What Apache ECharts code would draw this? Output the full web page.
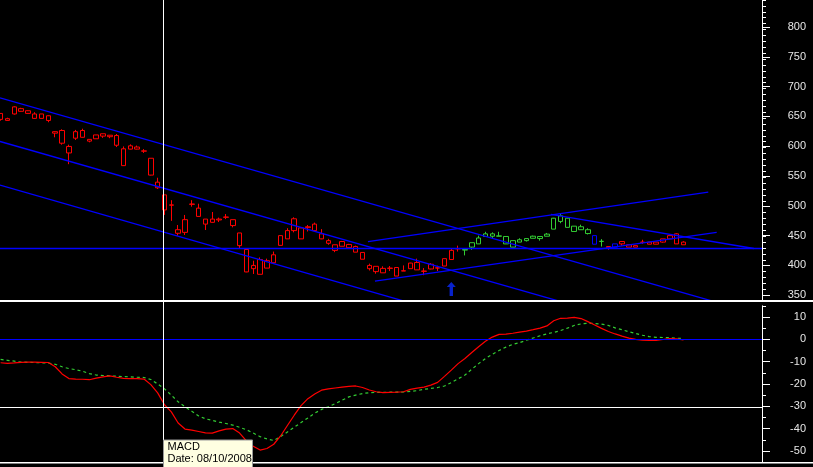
<!DOCTYPE html>
<html><head><meta charset="utf-8">
<script src="https://cdn.jsdelivr.net/npm/echarts@6/dist/echarts.min.js"></script>
<style>html,body{margin:0;padding:0;background:#000;}#c{width:813px;height:467px;}</style>
</head><body><div id="c"></div>
<script>
// ---- data ----
const dates = ['04/09/2008','05/09/2008','08/09/2008','09/09/2008','10/09/2008','11/09/2008','12/09/2008','15/09/2008','16/09/2008','17/09/2008','18/09/2008','19/09/2008','22/09/2008','23/09/2008','24/09/2008','25/09/2008','26/09/2008','29/09/2008','30/09/2008',
'01/10/2008','02/10/2008','03/10/2008','06/10/2008','07/10/2008','08/10/2008','09/10/2008','10/10/2008','13/10/2008','14/10/2008','15/10/2008','16/10/2008','17/10/2008','20/10/2008','21/10/2008','22/10/2008','23/10/2008','24/10/2008','27/10/2008','28/10/2008','29/10/2008','30/10/2008','31/10/2008',
'03/11/2008','04/11/2008','05/11/2008','06/11/2008','07/11/2008','10/11/2008','11/11/2008','12/11/2008','13/11/2008','14/11/2008','17/11/2008','18/11/2008','19/11/2008','20/11/2008','21/11/2008','24/11/2008','25/11/2008','26/11/2008','27/11/2008','28/11/2008',
'01/12/2008','02/12/2008','03/12/2008','04/12/2008','05/12/2008','08/12/2008','09/12/2008','10/12/2008','11/12/2008','12/12/2008','15/12/2008','16/12/2008','17/12/2008','18/12/2008','19/12/2008','22/12/2008','23/12/2008','24/12/2008','25/12/2008','26/12/2008','29/12/2008','30/12/2008','31/12/2008',
'01/01/2009','02/01/2009','05/01/2009','06/01/2009','07/01/2009','08/01/2009','09/01/2009','12/01/2009','13/01/2009','14/01/2009','15/01/2009','16/01/2009','19/01/2009','20/01/2009','21/01/2009','22/01/2009'];

const opens  = [647.8,649,657,661.5,662.5,657,649.5,654,627,629,591,616,629,614,615,619.5,618.5,620.5,569.5,603,601,594.5,582,541.5,520,503,461,456.5,504.5,497.5,470.5,479,479,482.5,478,455.5,427.5,395,410.5,396,405,434.5,445.5,479.5,445.5,466,470.5,454,442.5,426,441,430.5,432.5,422.5,400.5,390,395.5,395.5,382.5,391.5,395,405.5,390.5,402.5,396,399.5,410.5,428.5,427.5,431.5,437,449.5,450,450.5,449.5,431.5,444,446,450,449.5,453.5,462,484.5,480.5,458,466,461,451,441.5,432.5,431.5,441,431.5,434,439.5,440,440,440,445.5,454,435.5];
const closes = [657.9,646.1,669,666,658,649.5,657,646,624.5,607.5,602,627,617.5,611,621.5,623.5,621,604,598,597.5,597.5,594,553.5,532,494.5,502.5,455,478,504,483.5,479,473.5,477.5,482,468,434,389.5,400.5,385.5,408.5,418.5,451,459.5,459.5,464,464.5,459.5,445.5,438,435.5,433,436,423,411,395,399,388,396,397,391,404.5,393,391,394.5,396.5,412,426,429,426.5,439,447,454,454,450,437,442.5,440,442.5,446.5,446,450,480.5,475,465,467,461,454.5,436.5,441,430.5,437,437,435.5,431.5,440,436.5,436.5,445.5,451,437,440];
const lows   = [645.6,645.8,656,661,657.5,649,649.5,643,617.5,605,572,613,617,609,615,616.5,616,601,569,597,597,591,553,530,486,476,451,452,500,483,460.5,473,474,479,465,429.5,389,386,385.5,396,405,434.5,445.5,456.5,445.5,458,459,445,435.5,423,433,430,423,411,392,386.5,388,391,382.5,391,395,393,384,394,391,399.5,410.5,424,417.5,427,437,449,447,450,437,431.5,440,441,446.5,442.5,450,462,472,465,458,461,453,436.5,432.5,427,431,434,431.5,431.5,437,436.5,436.5,439,445.5,437,435.5];
const highs  = [658.5,650.7,670,667.5,663,660,657,654.5,627.5,631,605,630,632,614,621.5,623.5,621,623,602,605.5,603.5,597.5,582,549,520,511,469,486,511,505,479,491,481.5,487.5,478,455.5,428,408.5,414,412,424,451,463.5,482,464,469,473,462,445.5,435.5,442,437,434,422.5,403.5,399,399,399.5,397,400.5,405,412,396,404.5,400,412,428.5,434,428,439,451,457.5,456.5,457.5,449.5,442.5,446.5,446,451,449.5,455.5,481,487.5,481,467,469.5,463.5,451,445,432.5,437,441,435.5,434,444,440,440,445.5,451,455,441.5];
// bar colour class: r = down-trend, g = up-trend, b = neutral
const barTrend = ('r'.repeat(68) + 'g'.repeat(19) + 'bgrb' + 'r'.repeat(10)).split('');

const macd   = [-10.5,-10.8,-10.6,-10.3,-10.2,-10.2,-10.3,-10.4,-12.3,-15.5,-17.6,-17.8,-17.9,-18.1,-17.4,-16.8,-16.4,-17.0,-17.5,-17.6,-17.6,-17.8,-20.3,-24.0,-29.3,-32.5,-37.5,-40.2,-40.7,-41.3,-41.9,-42.0,-41.0,-40.2,-40.0,-42.0,-45.5,-47.9,-49.6,-48.9,-47.0,-43.3,-38.6,-34.0,-29.7,-26.6,-24.5,-22.8,-22.2,-21.8,-21.4,-21.1,-20.9,-21.6,-22.7,-23.5,-23.9,-23.8,-23.7,-23.5,-22.4,-21.9,-21.4,-20.5,-19.3,-16.6,-13.8,-10.9,-8.6,-5.9,-3.3,-0.9,1.0,2.2,2.3,2.7,3.2,3.7,4.3,5.0,6.0,8.3,9.4,9.5,9.8,9.3,7.9,6.4,4.9,3.5,2.4,1.4,0.5,0.0,-0.4,-0.5,-0.5,-0.1,0.3,0.2,-0.3];
const signal = [-9.0,-9.4,-9.8,-10.2,-10.3,-10.4,-10.5,-10.7,-11.2,-12.3,-13.1,-13.6,-14.3,-15.4,-16.0,-16.2,-16.4,-16.5,-16.7,-16.8,-17.0,-17.1,-18.0,-20.0,-22.2,-25.0,-28.0,-30.2,-32.2,-34.3,-35.6,-36.3,-37.1,-37.7,-38.4,-39.4,-40.5,-42.0,-43.6,-44.6,-45.3,-43.6,-41.5,-39.4,-37.3,-35.2,-33.1,-31.4,-30.2,-28.8,-27.3,-25.8,-25.0,-24.3,-23.9,-23.8,-23.8,-23.7,-23.7,-23.6,-23.3,-23.0,-22.4,-22.0,-21.6,-20.9,-19.4,-17.7,-16.0,-13.4,-10.9,-8.6,-6.7,-5.0,-3.5,-2.3,-1.5,-0.4,0.6,1.6,2.4,3.1,3.9,5.0,6.2,6.9,7.2,7.1,6.8,6.2,5.1,4.3,3.4,2.6,1.8,1.2,0.9,0.8,0.7,0.5,0.3];

// trend lines: [barIndex, price] end points
const trendLines = [
  [[-0.09, 684.2], [104.13, 340.3]],
  [[-0.09, 610.4], [81.66, 340.3]],
  [[-0.09, 536.6], [58.97, 340.3]],
  [[53.8, 440.9], [103.63, 524.8]],
  [[54.82, 373.8], [104.86, 456.5]],
  [[80.6, 487.1], [110.3, 429.2]]
];
const supportLevel = 429.2;
const signalArrow = {index: 66, price: 360.4};
const cursorDate = '08/10/2008';
const cursorIndex = 23.8;
const cursorMacd = -30.3;

// visible bar-index window of the time axis
const xWindow = {min: -0.088, max: 111.5};
const priceTicksMajor = {min: 350, max: 800, step: 50};
const priceTicksMinor = {min: 340, max: 850, step: 10};
const macdTicksMajor = {min: -50, max: 10, step: 10};
const macdTicksMinor = {min: -55, max: 15, step: 5};

// ---- chart ----
const palette = {r: '#ff0000', g: '#33cc33', b: '#0000ff'};
const GL = 0, GW = 762;
const pxPrice = 0.596;  // pixels per price unit
const pxMacd = 2.233;   // pixels per macd unit
const y800 = 27, yMacd0 = 339.3;

const candleData = opens.map((o, i) => {
  const c = palette[barTrend[i]];
  return {name: dates[i], value: [i, o, closes[i], lows[i], highs[i]],
    itemStyle: {color: '#000', color0: c, borderColor: c, borderColor0: c, borderWidth: 1}};
});
const macdData = macd.map((v, i) => [i, v]);
const signalData = signal.map((v, i) => [i, v]);

const labelStyle = {color: '#e6e6e6', fontFamily: 'Liberation Sans', fontSize: 11, align: 'right', margin: 44};
function yAx(grid, t, opts) {
  return Object.assign({type: 'value', gridIndex: grid, position: 'right', min: t.min, max: t.max, interval: t.step,
    splitLine: {show: false}, axisLine: {show: false, onZero: false}, axisLabel: {show: false},
    axisTick: {show: true, length: 4, lineStyle: {color: '#fff', width: 1}}}, opts || {});
}
const hideX = grid => ({type: 'value', gridIndex: grid, show: false, min: xWindow.min, max: xWindow.max,
  axisLine: {onZero: false}, splitLine: {show: false}});

const series = [
  {type: 'candlestick', xAxisIndex: 0, yAxisIndex: 0, barWidth: 5, data: candleData, silent: true,
    encode: {x: 0, y: [1, 2, 3, 4]}},
  {type: 'line', xAxisIndex: 0, yAxisIndex: 0, symbol: 'none', silent: true,
    data: [[xWindow.min - 1, supportLevel], [xWindow.max, supportLevel]], lineStyle: {color: '#0000ff', width: 1.3}},
  {type: 'scatter', xAxisIndex: 0, yAxisIndex: 0, silent: true,
    symbol: 'path://M4,0 L8,5 L5.5,5 L5.5,14 L2.5,14 L2.5,5 L0,5 Z', symbolSize: [9, 14],
    itemStyle: {color: '#0a2aff'}, data: [[signalArrow.index, signalArrow.price]]},
  {type: 'line', xAxisIndex: 2, yAxisIndex: 2, symbol: 'none', silent: true, data: signalData,
    lineStyle: {color: '#33cc33', width: 1.2, type: [3, 3]}},
  {type: 'line', xAxisIndex: 2, yAxisIndex: 2, symbol: 'none', silent: true, data: macdData,
    lineStyle: {color: '#ff0000', width: 1.2},
    markLine: {silent: true, symbol: 'none', label: {show: false}, animation: false,
      data: [{yAxis: 0, lineStyle: {color: '#0000ff', width: 1, type: 'solid'}},
             {yAxis: cursorMacd, lineStyle: {color: '#ffffff', width: 1, type: 'solid'}}]}}
];
trendLines.forEach(seg => series.push({type: 'line', xAxisIndex: 0, yAxisIndex: 0, symbol: 'none', silent: true,
  data: seg, lineStyle: {color: '#0000ff', width: 1.3}}));

const option = {
  backgroundColor: '#000',
  animation: false,
  grid: [
    {left: GL, width: GW, top: y800 - (850 - 800) * pxPrice, height: (850 - 340) * pxPrice},
    {left: GL, width: GW, top: y800, height: (800 - 350) * pxPrice},
    {left: GL, width: GW, top: yMacd0 - 15 * pxMacd, height: 70 * pxMacd},
    {left: GL, width: GW, top: yMacd0 - 10 * pxMacd, height: 60 * pxMacd}
  ],
  xAxis: [hideX(0), hideX(1), hideX(2), hideX(3)],
  yAxis: [
    yAx(0, priceTicksMinor, {axisLine: {show: true, onZero: false, lineStyle: {color: '#fff', width: 1}}}),
    yAx(1, priceTicksMajor, {axisTick: {show: true, length: 8, lineStyle: {color: '#fff'}}, axisLabel: Object.assign({show: true}, labelStyle)}),
    yAx(2, macdTicksMinor, {axisLine: {show: true, onZero: false, lineStyle: {color: '#fff', width: 1}}}),
    yAx(3, macdTicksMajor, {axisTick: {show: true, length: 8, lineStyle: {color: '#fff'}}, axisLabel: Object.assign({show: true}, labelStyle)})
  ],
  series: series
};

const chart = echarts.init(document.getElementById('c'), null, {renderer: 'canvas'});
chart.setOption(option);

const cx = Math.round(chart.convertToPixel({xAxisIndex: 0}, cursorIndex)) + 0.5;
chart.setOption({graphic: [
  {type: 'rect', shape: {x: 0, y: 300, width: 813, height: 2}, style: {fill: '#fff'}, z: 50},
  {type: 'rect', shape: {x: 0, y: 462, width: 813, height: 1.5}, style: {fill: '#fff'}, z: 50},
  {type: 'line', shape: {x1: cx, y1: 0, x2: cx, y2: 467}, style: {stroke: '#fff', lineWidth: 1}, z: 60},
  {type: 'group', x: cx, y: 440, z: 70, children: [
    {type: 'rect', shape: {x: 0, y: 0, width: 89, height: 30}, style: {fill: '#ffffe1', stroke: '#999', lineWidth: 1}, z: 70},
    {type: 'text', x: 4, y: 1, z: 71, style: {text: 'MACD', font: '11px "Liberation Sans"', fill: '#000', verticalAlign: 'top'}},
    {type: 'text', x: 4, y: 13, z: 71, style: {text: 'Date: ' + cursorDate, font: '11px "Liberation Sans"', fill: '#000', verticalAlign: 'top'}}
  ]}
]});
</script></body></html>
